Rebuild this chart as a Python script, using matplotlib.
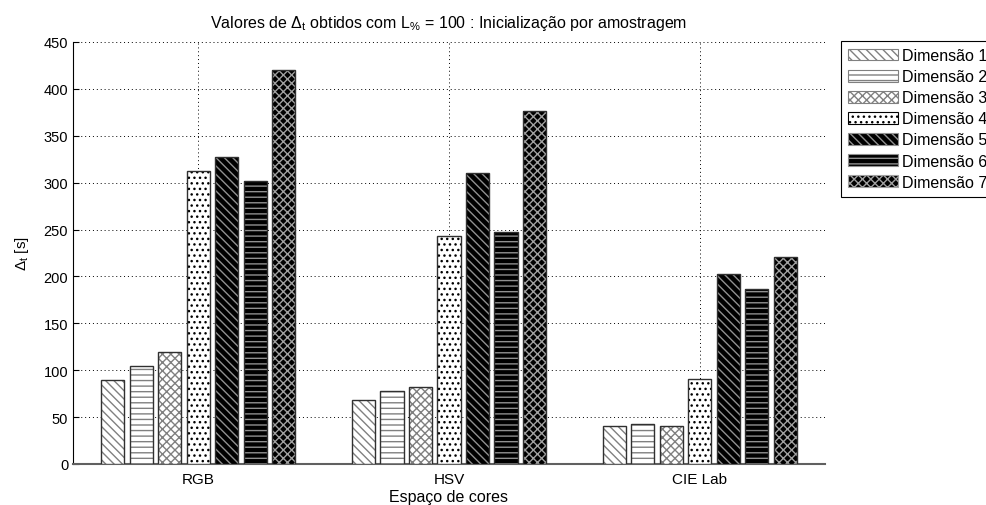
import numpy as np
import matplotlib
matplotlib.use("Agg")
import matplotlib.pyplot as plt

plt.rcParams['font.family'] = ['Liberation Sans', 'DejaVu Sans']
plt.rcParams['mathtext.default'] = 'regular'
plt.rcParams['hatch.linewidth'] = 1.0

# tempos por espaco de cores (RGB, HSV, CIE Lab)
espacos = ['RGB', 'HSV', 'CIE Lab']
dim1 = [90, 68, 41]
dim2 = [105, 78, 43]
dim3 = [119, 82, 40]
dim4 = [312, 243, 91]
dim5 = [327, 310, 203]
dim6 = [302, 247, 187]
dim7 = [420, 376, 221]
series = [dim1, dim2, dim3, dim4, dim5, dim6, dim7]
nomes = ['Dimensão %d' % (i + 1) for i in range(7)]

# fundo, cor da hachura, padrao
estilos = [
    ('white', '#808080', '\\\\\\\\'),
    ('white', '#808080', '---'),
    ('white', '#808080', 'xxxx'),
    ('white', '#000000', '...'),
    ('black', '#909090', '\\\\\\\\'),
    ('black', '#909090', '---'),
    ('black', '#a0a0a0', 'xxxx'),
]

fig = plt.figure(figsize=(9.87, 5.06), dpi=100)
ax = fig.add_axes([73 / 987, 41 / 506, 752 / 987, 422 / 506])

x = np.arange(1, len(espacos) + 1)
passo = 0.1137
largura = 0.092
handles = []
for i, (vals, (fc, hc, hatch)) in enumerate(zip(series, estilos)):
    pos = x + (i - 3) * passo
    b = ax.bar(pos, vals, largura, facecolor=fc, edgecolor=hc, hatch=hatch,
               linewidth=0, zorder=3, label=nomes[i])
    ax.bar(pos, vals, largura, fill=False, edgecolor='#303030', linewidth=1.0, zorder=4)
    handles.append(b)

ax.set_xlim(0.5, 3.5)
ax.set_ylim(0, 450)
ax.set_yticks(np.arange(0, 451, 50))
ax.set_xticks(x)
ax.set_xticklabels(espacos)
ax.tick_params(axis='y', direction='in', length=4, labelsize=10.5)
ax.tick_params(axis='x', direction='in', length=0, labelsize=11, pad=6)

ax.grid(True, linestyle=(0, (1, 3)), color='black', linewidth=0.7, zorder=0)
ax.set_axisbelow(True)
ax.spines['top'].set_visible(False)
ax.spines['right'].set_visible(False)
ax.spines['bottom'].set_color('#606060')
ax.spines['bottom'].set_linewidth(1.5)

ax.set_title('Valores de $\\Delta_t$ obtidos com L$_{\\%}$ = 100 : Inicialização por amostragem',
             fontsize=11.5, pad=11)
ax.set_ylabel('$\\Delta_t$ [s]', fontsize=11, labelpad=9)
ax.set_xlabel('Espaço de cores', fontsize=11.5, labelpad=2)

leg = ax.legend(handles=handles, loc='upper left', bbox_to_anchor=(841 / 987, 1 - 42 / 506),
                bbox_transform=fig.transFigure, borderaxespad=0, fancybox=False,
                edgecolor='black', fontsize=11.5, handlelength=3.1, handleheight=0.75,
                handletextpad=0.25, labelspacing=0.38, borderpad=0.45, framealpha=1)
leg.get_frame().set_linewidth(0.8)
for h in leg.legend_handles:
    h.set_linewidth(0.8)

fig.savefig('out.png', dpi=100)
